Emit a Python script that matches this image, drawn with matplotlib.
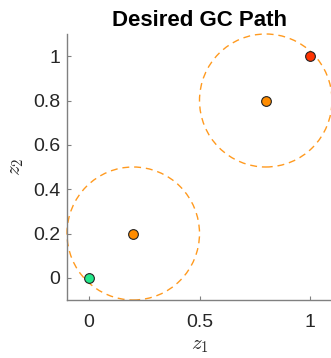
import numpy as np
import matplotlib
matplotlib.use("Agg")
import matplotlib.pyplot as plt
from matplotlib.patches import Circle

plt.rcParams['font.family'] = ['Liberation Sans', 'DejaVu Sans']
plt.rcParams['mathtext.fontset'] = 'cm'

start = (0.0, 0.0)
goal = (1.0, 1.0)
centers_x = [0.2, 0.8]
centers_y = [0.2, 0.8]
radius = 0.3
xticks = [0, 0.5, 1]
xtick_labels = ['0', '0.5', '1']
yticks = [0, 0.2, 0.4, 0.6, 0.8, 1]
ytick_labels = ['0', '0.2', '0.4', '0.6', '0.8', '1']

fig = plt.figure(figsize=(3.31, 3.58), dpi=100)
ax = fig.add_axes([67/331, 58/358, 265/331, 266/358])

for cx, cy in zip(centers_x, centers_y):
    ax.add_patch(Circle((cx, cy), radius, fill=False, ls=(0, (5, 3.5)),
                        ec='#ff9a1f', lw=1.0, clip_on=False))
ax.plot(centers_x, centers_y, 'o', ms=7, mfc='#ff8c00', mec='#222222', mew=0.8, ls='none', zorder=3)
ax.plot([start[0]], [start[1]], 'o', ms=7, mfc='#22e88a', mec='#222222', mew=0.8, zorder=3)
ax.plot([goal[0]], [goal[1]], 'o', ms=7, mfc='#ff3300', mec='#222222', mew=0.8, zorder=3)

ax.set_xlim(-0.1, 1.1)
ax.set_ylim(-0.1, 1.1)
ax.set_xticks(xticks)
ax.set_xticklabels(xtick_labels)
ax.set_yticks(yticks)
ax.set_yticklabels(ytick_labels)
ax.spines['top'].set_visible(False)
ax.spines['right'].set_visible(False)
for s in ['left', 'bottom']:
    ax.spines[s].set_color('#808080')
    ax.spines[s].set_linewidth(1.0)
ax.tick_params(direction='in', length=3, color='#808080', labelsize=14, labelcolor='#262626')
ax.tick_params(axis='x', pad=10)
ax.tick_params(axis='y', pad=5)
ax.set_xlabel(r'$z_1$', fontsize=15, labelpad=4, color='#262626')
ax.set_ylabel(r'$z_2$', fontsize=15, labelpad=5, color='#262626')
ax.set_title('Desired GC Path', fontsize=16, fontweight='bold', pad=6)
fig.savefig('out.png', dpi=100)
